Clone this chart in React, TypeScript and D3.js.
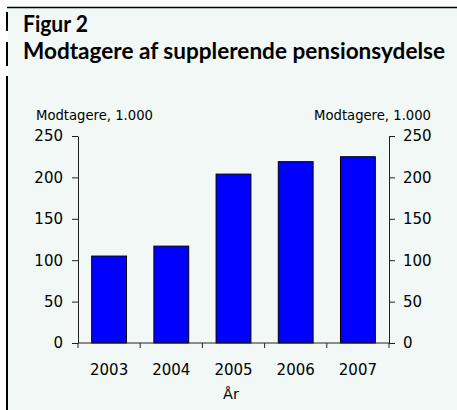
import React, { useEffect, useRef } from 'react';
import * as d3 from 'd3';

// chart data
const years = ['2003', '2004', '2005', '2006', '2007'];
const recipients = [105, 117, 204, 219, 225]; // Modtagere, 1.000
const yTicks = [0, 50, 100, 150, 200, 250];

const W = 457;
const H = 410;
const BG = '#f1f8f6';
const FONT = '"DejaVu Sans", sans-serif';
const TITLE_FONT = 'Lato, "DejaVu Sans Condensed", sans-serif';

const App: React.FC = () => {
  const svgRef = useRef<SVGSVGElement>(null);

  useEffect(() => {
    if (!svgRef.current) return;
    const svg = d3.select(svgRef.current);
    svg.selectAll('*').remove();

    const left = 78;
    const right = 389;
    const top = 136;
    const bottom = 343;

    // background panel + frame lines
    svg.append('rect').attr('x', 8).attr('y', 8).attr('width', W - 8).attr('height', H - 8).attr('fill', BG);
    svg.append('line').attr('x1', 7).attr('x2', W).attr('y1', 7.5).attr('y2', 7.5)
      .attr('stroke', '#000').attr('stroke-width', 1.3);
    [[12, 31], [42, 66], [76, H]].forEach(([a, b]) => {
      svg.append('line').attr('x1', 7).attr('x2', 7).attr('y1', a).attr('y2', b)
        .attr('stroke', '#000').attr('stroke-width', 2);
    });

    // title
    svg.append('text').attr('x', 23).attr('y', 31.5)
      .attr('font-family', TITLE_FONT)
      .attr('font-weight', 'bold').attr('font-size', 22)
      .attr('textLength', 65).attr('lengthAdjust', 'spacingAndGlyphs')
      .text('Figur 2');
    svg.append('text').attr('x', 23).attr('y', 58.5)
      .attr('font-family', TITLE_FONT)
      .attr('font-weight', 'bold').attr('font-size', 22)
      .attr('textLength', 422).attr('lengthAdjust', 'spacingAndGlyphs')
      .text('Modtagere af supplerende pensionsydelse');

    const x = d3.scaleBand<string>().domain(years).range([left, right])
      .paddingInner(0.44).paddingOuter(0.22);
    const y = d3.scaleLinear().domain([0, 250]).range([bottom, top]);

    // bars
    svg.append('g').selectAll('rect')
      .data(recipients)
      .enter()
      .append('rect')
      .attr('x', (d, i) => x(years[i]) as number)
      .attr('y', d => y(d))
      .attr('width', x.bandwidth())
      .attr('height', d => y(0) - y(d))
      .attr('fill', '#0000ff')
      .attr('stroke', '#000')
      .attr('stroke-width', 1);

    // y axes
    const styleAxis = (g: d3.Selection<SVGGElement, unknown, null, undefined>) => {
      g.selectAll('path').attr('stroke', '#222');
      g.selectAll('line').attr('stroke', '#222');
      g.selectAll('text').attr('font-family', FONT).attr('font-size', 15).attr('fill', '#000');
      g.attr('font-family', null).attr('font-size', null);
    };
    const yLeft = svg.append('g').attr('transform', `translate(${left},0)`)
      .call(d3.axisLeft(y).tickValues(yTicks).tickSize(6).tickSizeOuter(0).tickPadding(9));
    styleAxis(yLeft);
    const yRight = svg.append('g').attr('transform', `translate(${right},0)`)
      .call(d3.axisRight(y).tickValues(yTicks).tickSize(6).tickSizeOuter(0).tickPadding(8));
    styleAxis(yRight);

    // x axis line + boundary ticks
    svg.append('line').attr('x1', left).attr('x2', right).attr('y1', bottom).attr('y2', bottom)
      .attr('stroke', '#222');
    const step = x.step();
    const bounds = d3.range(years.length + 1).map(i => left + i * step);
    svg.append('g').selectAll('line').data(bounds).enter().append('line')
      .attr('x1', d => d).attr('x2', d => d)
      .attr('y1', bottom).attr('y2', bottom + 5)
      .attr('stroke', '#222');

    svg.append('g').selectAll('text').data(years).enter().append('text')
      .attr('x', d => (x(d) as number) + x.bandwidth() / 2)
      .attr('y', 375)
      .attr('text-anchor', 'middle')
      .attr('font-family', FONT).attr('font-size', 15)
      .text(d => d);

    // axis titles
    svg.append('text').attr('x', 231).attr('y', 399).attr('text-anchor', 'middle')
      .attr('font-family', FONT).attr('font-size', 14.5).text('År');
    svg.append('text').attr('x', 36).attr('y', 120)
      .attr('font-family', FONT).attr('font-size', 13.2).text('Modtagere, 1.000');
    svg.append('text').attr('x', 431).attr('y', 120).attr('text-anchor', 'end')
      .attr('font-family', FONT).attr('font-size', 13.2).text('Modtagere, 1.000');
  }, []);

  return (
    <svg
      ref={svgRef}
      width={W}
      height={H}
      style={{ position: 'absolute', left: 0, top: 0, background: '#fff' }}
    />
  );
};

export default App;
